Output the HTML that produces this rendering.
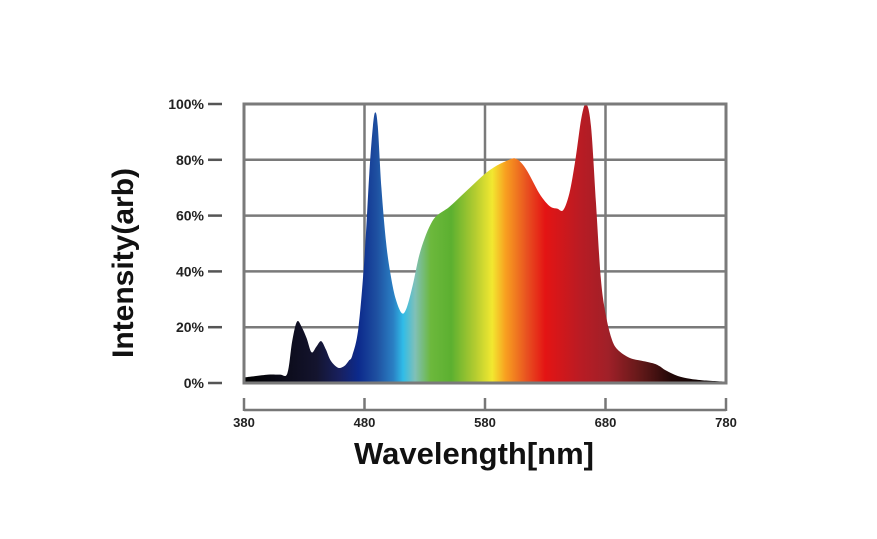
<!DOCTYPE html>
<html><head><meta charset="utf-8"><style>
html,body{margin:0;padding:0;background:#fff;width:877px;height:539px;overflow:hidden}
svg{display:block;font-family:"Liberation Sans",sans-serif}
</style></head><body>
<svg id="chart" width="877" height="539">
<defs>
<linearGradient id="spec" gradientUnits="userSpaceOnUse" x1="244" y1="0" x2="726" y2="0"></linearGradient>
</defs>
<g id="grid"></g>
<path id="area" fill="url(#spec)"></path>
<g id="frame"></g>
<g id="yticks"></g>
<g id="xticks"></g>
<text x="0" y="0" transform="translate(133,263) rotate(-90)" text-anchor="middle" font-size="30" font-weight="bold" fill="#111">Intensity(arb)</text>
<text x="474" y="464" text-anchor="middle" font-size="31" font-weight="bold" fill="#111">Wavelength[nm]</text>
</svg>
<script>
const wavelengths=[380,400,410,416,420,424,428,432,436,440,444,448,452,458,463,467,470,475,480,484,487,489,491,494,498,502,506,511,515,520,525,530,535,540,550,560,570,580,590,600,605,610,615,620,625,630,635,640,645,650,655,660,664,668,672,676,680,685,690,700,710,720,725,730,740,750,760,780];
const intensity=[2,3,3,3.5,15,22,20,16,11,13,15,12,8,5.5,6,8,10,20,45,75,92,97,92,70,50,38,30,25,27,35,45,52,57,60,63,67,71,75,78,80,80.5,79,76,72,68,65,63,62.5,62,68,80,95,100,92,65,38,25,16,12,9,8,7,6,4.5,2.5,1.5,1,0.5];
const xTicks=[380,480,580,680,780];
const yTicks=[0,20,40,60,80,100];
const colorStops=[[380,"#000000"],[440,"#14142e"],[460,"#182060"],[475,"#0c2a8c"],[490,"#1e4fa0"],[504,"#2a80c4"],[512,"#30bce8"],[522,"#80c0b8"],[535,"#6cb83c"],[552,"#5cb030"],[572,"#b4cc30"],[586,"#f2e830"],[597,"#f8a020"],[615,"#e85020"],[630,"#e41414"],[660,"#b81c24"],[682,"#a02028"],[710,"#601818"],[735,"#220808"],[780,"#000000"]];
const X0=244,X1=726,Y0=383,Y1=104;
const sx=w=>X0+(w-380)/400*(X1-X0);
const sy=v=>Y0-v/100*(Y0-Y1);
const NS="http://www.w3.org/2000/svg";
const mk=(t,a,p)=>{const e=document.createElementNS(NS,t);for(const k in a)e.setAttribute(k,a[k]);p.appendChild(e);return e;};
const g=document.getElementById('spec');
colorStops.forEach(s=>{const st=mk('stop',{offset:((s[0]-380)/400).toFixed(4),'stop-color':s[1]},g);

});
const pts=wavelengths.map((w,i)=>[sx(w),sy(intensity[i])]);
let d='M'+sx(wavelengths[0])+','+sy(0)+' L'+pts[0][0].toFixed(1)+','+pts[0][1].toFixed(1);
for(let i=0;i<pts.length-1;i++){
  const p0=pts[Math.max(0,i-1)],p1=pts[i],p2=pts[i+1],p3=pts[Math.min(pts.length-1,i+2)];
  const c1=[p1[0]+(p2[0]-p0[0])/6,p1[1]+(p2[1]-p0[1])/6];
  const c2=[p2[0]-(p3[0]-p1[0])/6,p2[1]-(p3[1]-p1[1])/6];
  d+=' C'+c1[0].toFixed(1)+','+Math.min(Y0,c1[1]).toFixed(1)+' '+c2[0].toFixed(1)+','+Math.min(Y0,c2[1]).toFixed(1)+' '+p2[0].toFixed(1)+','+p2[1].toFixed(1);
}
d+=' L'+sx(wavelengths[wavelengths.length-1])+','+sy(0)+' Z';
document.getElementById('area').setAttribute('d',d);
const grid=document.getElementById('grid');
yTicks.forEach(v=>{const l=mk('line',{x1:X0,x2:X1,y1:sy(v),y2:sy(v),stroke:'#7a7a7a','stroke-width':2.5},grid);

});
xTicks.forEach(w=>{const l=mk('line',{x1:sx(w),x2:sx(w),y1:Y1,y2:Y0,stroke:'#7a7a7a','stroke-width':2.5},grid);

});
const fr=document.getElementById('frame');
const r=mk('rect',{x:X0,y:Y1,width:X1-X0,height:Y0-Y1,fill:'none',stroke:'#7a7a7a','stroke-width':3},fr);


const yt=document.getElementById('yticks');
yTicks.forEach(v=>{const l=mk('line',{x1:208,x2:222,y1:sy(v),y2:sy(v),stroke:'#555','stroke-width':2.5},yt);


const t=mk('text',{x:204,y:sy(v)+5,'text-anchor':'end','font-size':14,'font-weight':'bold',fill:'#222'},yt);


t.textContent=v+'%';});
const xt=document.getElementById('xticks');
const al=mk('line',{x1:X0,x2:X1,y1:410,y2:410,stroke:'#777','stroke-width':2.5},xt);


xTicks.forEach(w=>{const l=mk('line',{x1:sx(w),x2:sx(w),y1:398,y2:411,stroke:'#777','stroke-width':2.5},xt);


const t=mk('text',{x:sx(w),y:427,'text-anchor':'middle','font-size':13,'font-weight':'bold',fill:'#222'},xt);


t.textContent=w;});
</script>
</body></html>
